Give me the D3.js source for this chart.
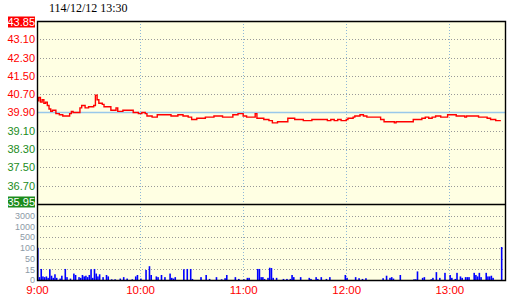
<!DOCTYPE html>
<html>
<head>
<meta charset="utf-8">
<script src="https://cdn.jsdelivr.net/npm/d3@7"></script>
<style>
    body { margin: 0; background: #fff; }
    svg { display: block; }
</style>
</head>
<body>
<svg id="chart" width="520" height="300"></svg>
<script>
// Chart data
var title = "114/12/12 13:30"
var refPrice = 39.90
var priceTickValues = [43.85, 43.06, 42.27, 41.48, 40.69, 39.90, 39.11, 38.32, 37.53, 36.74, 35.95]
var priceTickLabels = ["43.85", "43.10", "42.30", "41.50", "40.70", "39.90", "39.10", "38.30", "37.50", "36.70", "35.95"]
var volTickValues = [0, 15, 50, 100, 500, 1000, 3000]
var volTickLabels = ["0", "15", "50", "100", "500", "1000", "3000"]
var timeTickValues = [0, 60, 120, 180, 240]
var timeTickLabels = ["9:00", "10:00", "11:00", "12:00", "13:00"]

// price changes: minute after 9:00 -> price
var priceMinutes = [0, 1, 2, 3, 4, 5, 6, 7, 8, 9, 11, 13, 15, 19, 20, 21, 25, 26, 28, 30,
    33, 34, 35, 36, 38, 39, 43, 46, 47, 50, 56, 59, 61, 63, 64, 67, 70, 78, 82, 85,
    88, 90, 93, 98, 103, 108, 114, 117, 120, 122, 127, 128, 132, 135, 137, 140, 146, 150, 155, 160,
    169, 171, 173, 175, 177, 180, 181, 184, 185, 188, 190, 192, 200, 202, 208, 209, 219, 224, 226, 228,
    230, 232, 235, 239, 244, 249, 250, 257, 262, 264, 267, 270]
var priceValues = [40.40, 40.55, 40.35, 40.45, 40.30, 40.35, 40.20, 40.05, 39.95, 40.00, 39.85, 39.80, 39.75, 39.85, 39.95, 39.90, 40.10, 40.20, 40.10, 40.15,
    40.20, 40.65, 40.45, 40.30, 40.25, 40.15, 40.00, 40.10, 39.95, 40.00, 39.90, 39.85, 39.90, 39.85, 39.75, 39.70, 39.80, 39.75, 39.80, 39.75,
    39.70, 39.60, 39.65, 39.70, 39.75, 39.70, 39.80, 39.85, 39.75, 39.70, 39.85, 39.65, 39.60, 39.55, 39.45, 39.50, 39.65, 39.60, 39.55, 39.60,
    39.55, 39.60, 39.55, 39.60, 39.55, 39.60, 39.65, 39.70, 39.75, 39.80, 39.75, 39.70, 39.60, 39.50, 39.45, 39.50, 39.60, 39.65, 39.70, 39.65,
    39.70, 39.75, 39.70, 39.80, 39.75, 39.70, 39.75, 39.70, 39.65, 39.60, 39.55, 39.55]

// volume bars: minute after 9:00 -> volume
var volMinutes = [0, 1, 2, 3, 4, 5, 6, 7, 8, 9, 10, 11, 13, 14, 16, 17, 19, 21, 22, 24,
    25, 26, 27, 28, 29, 30, 31, 32, 33, 34, 35, 36, 38, 40, 41, 43, 45, 48, 50, 52,
    55, 57, 58, 60, 63, 65, 66, 69, 70, 72, 74, 77, 78, 79, 80, 85, 87, 89, 90, 95,
    98, 100, 104, 107, 109, 110, 115, 117, 120, 122, 123, 128, 129, 130, 131, 132, 134, 135, 136, 137,
    139, 143, 145, 147, 148, 149, 153, 158, 159, 162, 163, 165, 168, 170, 179, 180, 185, 187, 189, 191,
    201, 203, 205, 206, 207, 211, 219, 220, 221, 224, 225, 229, 230, 232, 234, 237, 240, 241, 243, 244,
    246, 247, 249, 250, 251, 254, 255, 256, 257, 258, 261, 262, 263, 264, 265, 270]
var volValues = [100, 4, 16, 5, 4, 5, 3, 15, 6, 3, 8, 3, 2, 6, 16, 4, 2, 9, 7, 4,
    3, 7, 5, 6, 4, 7, 15, 3, 16, 9, 5, 8, 4, 7, 5, 1, 1, 2, 4, 2,
    1, 5, 7, 2, 14, 25, 7, 5, 4, 7, 4, 9, 3, 2, 4, 15, 16, 16, 1.5, 4,
    7, 1.5, 4, 1, 2.5, 7, 4, 1.5, 1, 3, 3, 16, 16, 4, 4, 1.5, 3, 20, 19, 3,
    3, 1.5, 1.5, 1.5, 7, 4, 4, 3, 1.5, 4, 1.5, 4, 1.5, 4, 7, 3, 4, 2.5, 1.5, 2.5,
    2.5, 6, 3, 4, 2, 7, 1, 1, 12, 3, 4, 1, 3, 11, 3, 10, 7, 3, 1.5, 10,
    5, 3, 4, 4, 4, 10, 7, 5, 10, 4, 10, 5, 5, 6, 3, 130]

// Layout and colors
var plotLeft = 37, plotRight = 505, plotTop = 21, plotMid = 204, plotBottom = 280
var bgColor = "#ffffe3"
var upColor = "#ff0000"
var downColor = "#1c8c1c"
var gridColor = "#999999"
var hourGridColor = "#8fb8d8"
var refColor = "#99c8ea"
var volColor = "#0000ff"
var volLabelColor = "#8d9aa6"
var labelFont = "'Liberation Sans', Arial, sans-serif"

var svg = d3.select("#chart")

var x = d3.scaleLinear().domain([0, 272.4]).range([plotLeft, plotRight])
var yPrice = d3.scaleLinear().domain([35.95, 43.85]).range([plotMid, plotTop])
var volStep = (plotBottom - 215.6) / 6
var yVol = d3.scaleLinear()
    .domain(volTickValues)
    .range(volTickValues.map(function(d, i) { return plotBottom - i * volStep }))

function crisp(v) {
    return Math.round(v) + 0.5
}

// Background
svg.append("rect")
    .attr("x", plotLeft).attr("y", plotTop)
    .attr("width", plotRight - plotLeft).attr("height", plotBottom - plotTop)
    .style("fill", bgColor)

// Horizontal price grid
priceTickValues.forEach(function(d, i) {
    if(i === 0 || i === priceTickValues.length - 1 || d === refPrice)
        return
    svg.append("line")
        .attr("x1", plotLeft).attr("x2", plotRight)
        .attr("y1", crisp(yPrice(d))).attr("y2", crisp(yPrice(d)))
        .style("stroke", gridColor)
        .style("stroke-dasharray", "1,2")
        .style("shape-rendering", "crispEdges")
})

// Horizontal volume grid
volTickValues.forEach(function(d) {
    if(d === 0)
        return
    svg.append("line")
        .attr("x1", plotLeft).attr("x2", plotRight)
        .attr("y1", crisp(yVol(d))).attr("y2", crisp(yVol(d)))
        .style("stroke", gridColor)
        .style("stroke-dasharray", "1,2")
        .style("shape-rendering", "crispEdges")
})

// Hour grid
timeTickValues.forEach(function(d) {
    if(d === 0)
        return
    svg.append("line")
        .attr("x1", crisp(x(d))).attr("x2", crisp(x(d)))
        .attr("y1", plotTop).attr("y2", plotBottom)
        .style("stroke", hourGridColor)
        .style("stroke-dasharray", "1,2")
        .style("shape-rendering", "crispEdges")
})

// Reference price line
svg.append("line")
    .attr("x1", plotLeft).attr("x2", plotRight)
    .attr("y1", yPrice(refPrice)).attr("y2", yPrice(refPrice))
    .style("stroke", refColor)
    .style("stroke-width", 1.6)

// Volume bars
svg.selectAll(".vol")
    .data(volMinutes)
    .enter().append("rect")
    .attr("class", "vol")
    .attr("x", function(d) { return x(d) })
    .attr("width", 1.6)
    .attr("y", function(d, i) { return yVol(volValues[i]) })
    .attr("height", function(d, i) { return plotBottom - yVol(volValues[i]) })
    .style("fill", volColor)

// Price line
var priceData = priceMinutes.map(function(d, i) { return [d, priceValues[i]] })
var line = d3.line()
    .x(function(d) { return x(d[0]) })
    .y(function(d) { return yPrice(d[1]) })
    .curve(d3.curveStepAfter)

svg.append("path")
    .datum(priceData)
    .attr("d", line)
    .style("fill", "none")
    .style("stroke", upColor)
    .style("stroke-width", 1.4)

// Frame
svg.append("path")
    .attr("d", "M" + (plotLeft + 0.5) + "," + (plotTop + 0.5) + "H" + (plotRight + 0.5) + "V" + (plotBottom + 0.5) + "H" + (plotLeft + 0.5) + "Z")
    .style("fill", "none")
    .style("stroke", "#000")
    .style("stroke-width", 1.4)
svg.append("line")
    .attr("x1", plotLeft).attr("x2", plotRight + 1)
    .attr("y1", plotMid + 0.5).attr("y2", plotMid + 0.5)
    .style("stroke", "#000")
    .style("stroke-width", 1.4)

// Price labels
priceTickValues.forEach(function(d, i) {
    var yy = yPrice(d)
    if(i === 0) yy = plotTop + 1
    if(i === priceTickValues.length - 1) yy = plotMid - 2
    var color = d >= refPrice ? upColor : downColor
    var boxed = (i === 0 || i === priceTickValues.length - 1)
    if(boxed) {
        svg.append("rect")
            .attr("x", 8).attr("y", yy - 5.5)
            .attr("width", 27).attr("height", 11)
            .style("fill", color)
    }
    svg.append("text")
        .attr("x", 35).attr("y", yy)
        .attr("dy", "0.36em")
        .attr("text-anchor", "end")
        .style("font-family", labelFont)
        .style("font-size", "11px")
        .style("fill", boxed ? "#fff" : color)
        .text(priceTickLabels[i])
})

// Volume labels
volTickValues.forEach(function(d, i) {
    svg.append("text")
        .attr("x", 35).attr("y", yVol(d))
        .attr("dy", "0.36em")
        .attr("text-anchor", "end")
        .style("font-family", labelFont)
        .style("font-size", "9px")
        .style("fill", volLabelColor)
        .text(volTickLabels[i])
})

// Time axis
var timeAxis = d3.axisBottom(x)
    .tickValues(timeTickValues)
    .tickFormat(function(d, i) { return timeTickLabels[i] })
    .tickSize(0)
    .tickPadding(0)

var gTime = svg.append("g")
    .attr("transform", "translate(0," + 286 + ")")
    .call(timeAxis)
gTime.select(".domain").remove()
gTime.selectAll("text")
    .attr("dy", "0.72em")
    .style("font-family", labelFont)
    .style("font-size", "11.5px")
    .style("fill", upColor)

// Title
svg.append("text")
    .attr("x", 49).attr("y", 12)
    .style("font-family", "'Liberation Serif', 'Times New Roman', serif")
    .style("font-size", "12px")
    .style("fill", "#000")
    .text(title)
</script>
</body>
</html>
